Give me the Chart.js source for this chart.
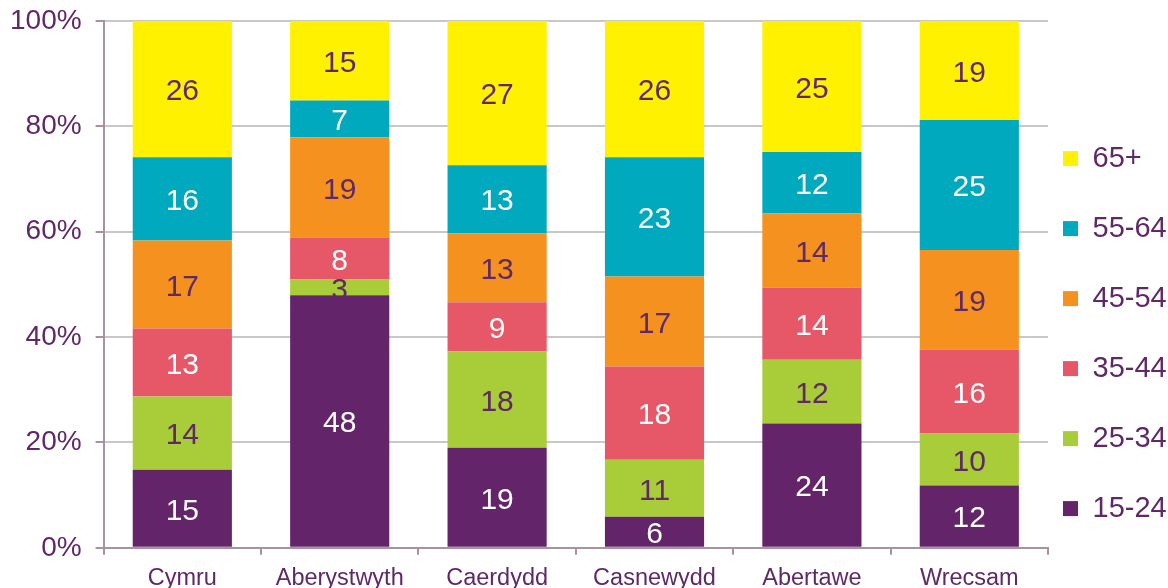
<!DOCTYPE html>
<html>
<head>
<meta charset="utf-8">
<script src="https://cdn.jsdelivr.net/npm/chart.js@4/dist/chart.umd.min.js"></script>
<style>
  html, body { margin: 0; padding: 0; background: #fff; overflow: hidden; }
  canvas { display: block; margin-top: -10px; }
</style>
</head>
<body>
<canvas id="ageChart" width="1168" height="613"></canvas>
<script>
// Age profile by area (share of each age band, %)
const areas = ['Cymru', 'Aberystwyth', 'Caerdydd', 'Casnewydd', 'Abertawe', 'Wrecsam'];
const age15to24 = [14.8, 47.9, 19.0, 5.9, 23.6, 11.8];
const age25to34 = [13.9, 3.0, 18.3, 10.8, 12.1, 9.9];
const age35to44 = [12.9, 8.0, 9.3, 17.7, 13.7, 15.9];
const age45to54 = [16.7, 19.0, 13.1, 17.1, 14.1, 18.9];
const age55to64 = [15.8, 7.0, 12.9, 22.6, 11.6, 24.7];
const age65plus = [25.9, 15.1, 27.4, 25.9, 24.9, 18.8];
const yTicks = [0, 20, 40, 60, 80, 100];

const textPurple = '#5f2866';
const axisColor = '#a8929f';
const fontFamily = '"Liberation Sans", Arial, sans-serif';

// draws the rounded value in the middle of each segment
const segmentLabels = {
    id: 'segmentLabels',
    afterDatasetsDraw(chart) {
        const ctx = chart.ctx;
        ctx.save();
        ctx.font = '30px ' + fontFamily;
        ctx.textAlign = 'center';
        ctx.textBaseline = 'middle';
        chart.data.datasets.forEach((ds, i) => {
            const meta = chart.getDatasetMeta(i);
            meta.data.forEach((bar, j) => {
                ctx.fillStyle = ds.labelColor;
                ctx.fillText(Math.round(ds.data[j]), bar.x, (bar.y + bar.base) / 2 + 3);
            });
        });
        ctx.restore();
    }
};

new Chart(document.getElementById('ageChart'), {
    type: 'bar',
    data: {
        labels: areas,
        datasets: [
            { label: '15-24', data: age15to24, backgroundColor: '#63246a', labelColor: '#ffffff' },
            { label: '25-34', data: age25to34, backgroundColor: '#a8cd38', labelColor: textPurple },
            { label: '35-44', data: age35to44, backgroundColor: '#e65868', labelColor: '#ffffff' },
            { label: '45-54', data: age45to54, backgroundColor: '#f5921f', labelColor: textPurple },
            { label: '55-64', data: age55to64, backgroundColor: '#00a9bd', labelColor: '#ffffff' },
            { label: '65+', data: age65plus, backgroundColor: '#fff100', labelColor: textPurple }
        ]
    },
    options: {
        responsive: false,
        animation: false,
        devicePixelRatio: 1,
        datasets: { bar: { categoryPercentage: 1, barPercentage: 0.63 } },
        layout: { padding: { top: 0, left: -4, right: 0, bottom: 0 } },
        plugins: {
            tooltip: { enabled: false },
            legend: {
                position: 'right',
                reverse: true,
                maxWidth: 120,
                title: { display: true, text: ' ', font: { size: 1 }, padding: { top: 0, bottom: 99 } },
                labels: {
                    boxWidth: 15,
                    boxHeight: 15,
                    padding: 15,
                    color: textPurple,
                    // one-line arrays so the row height follows font.lineHeight
                    font: { size: 29, lineHeight: 55 / 29, family: fontFamily },
                    generateLabels: chart => Chart.defaults.plugins.legend.labels.generateLabels(chart)
                        .map(item => Object.assign(item, { text: [item.text] }))
                }
            }
        },
        scales: {
            x: {
                stacked: true,
                border: { color: axisColor, width: 2 },
                grid: { offset: true, drawOnChartArea: false, tickLength: 7, color: axisColor, lineWidth: 2 },
                ticks: {
                    color: textPurple,
                    padding: 10,
                    font: { size: 23.5, family: fontFamily }
                }
            },
            y: {
                stacked: true,
                min: 0,
                max: 100,
                afterBuildTicks: axis => { axis.ticks = yTicks.map(v => ({ value: v })); },
                border: { color: axisColor, width: 2 },
                grid: { color: '#c8c8c8', lineWidth: 2, tickLength: 8, tickColor: axisColor },
                ticks: {
                    color: textPurple,
                    padding: 14,
                    callback: v => v + '%',
                    font: { size: 28, family: fontFamily }
                }
            }
        }
    },
    plugins: [segmentLabels]
});
</script>
</body>
</html>
